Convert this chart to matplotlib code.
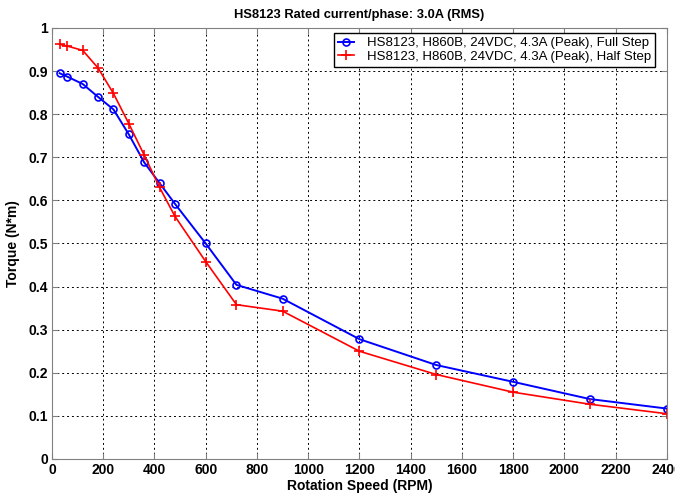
import matplotlib
matplotlib.use('Agg')
import matplotlib.pyplot as plt

plt.rcParams['font.family'] = ['Liberation Sans', 'DejaVu Sans']

speed = [30, 60, 120, 180, 240, 300, 360, 420, 480, 600, 720, 900, 1200, 1500, 1800, 2100, 2400]
full_step = [0.895, 0.887, 0.870, 0.840, 0.811, 0.753, 0.688, 0.640, 0.592, 0.500, 0.404,
             0.372, 0.278, 0.218, 0.179, 0.139, 0.117]
half_step = [0.962, 0.958, 0.948, 0.907, 0.848, 0.778, 0.705, 0.630, 0.563, 0.458, 0.358,
             0.343, 0.250, 0.196, 0.155, 0.127, 0.105]
labels = ['HS8123, H860B, 24VDC, 4.3A (Peak), Full Step',
          'HS8123, H860B, 24VDC, 4.3A (Peak), Half Step']

fig = plt.figure(figsize=(6.75, 4.96), dpi=100)
ax = fig.add_axes([0.077, 0.0746, 0.911, 0.869])

ax.plot(speed, full_step, color='#0000ff', marker='o', mfc='none', ms=5, mew=1.2,
        lw=1.4, label=labels[0])
ax.plot(speed, half_step, color='#ff0000', marker='+', ms=7, mew=1.2,
        lw=1.2, label=labels[1])

ax.set_xlim(0, 2400)
ax.set_ylim(0, 1)
ax.set_xticks(range(0, 2401, 200))
ax.set_yticks([i / 10 for i in range(11)])
ax.set_yticklabels(['0', '0.1', '0.2', '0.3', '0.4', '0.5', '0.6', '0.7', '0.8', '0.9', '1'])
ax.grid(True, color='black', linestyle=(0, (2, 3)), linewidth=0.7)

for lab in ax.get_xticklabels() + ax.get_yticklabels():
    lab.set_fontweight('bold')
ax.tick_params(labelsize=10, direction='in', length=4, color='#808080', pad=3,
               top=True, right=True)
for s in ax.spines.values():
    s.set_color('#808080')

ax.set_xlabel('Rotation Speed (RPM)', fontsize=10, fontweight='bold', labelpad=1)
ax.set_ylabel('Torque (N*m)', fontsize=10, fontweight='bold', labelpad=6)
ax.set_title('HS8123 Rated current/phase: 3.0A (RMS)', fontsize=9.3, fontweight='bold', pad=7)

leg = ax.legend(loc='upper right', fontsize=9.5, fancybox=False, framealpha=1,
                edgecolor='black', handlelength=1.2, handletextpad=1.0, borderpad=0.3,
                labelspacing=0.1, borderaxespad=0.4, bbox_to_anchor=(0.99, 1.0))
leg.get_frame().set_linewidth(1.0)

fig.savefig('out.png', dpi=100)
